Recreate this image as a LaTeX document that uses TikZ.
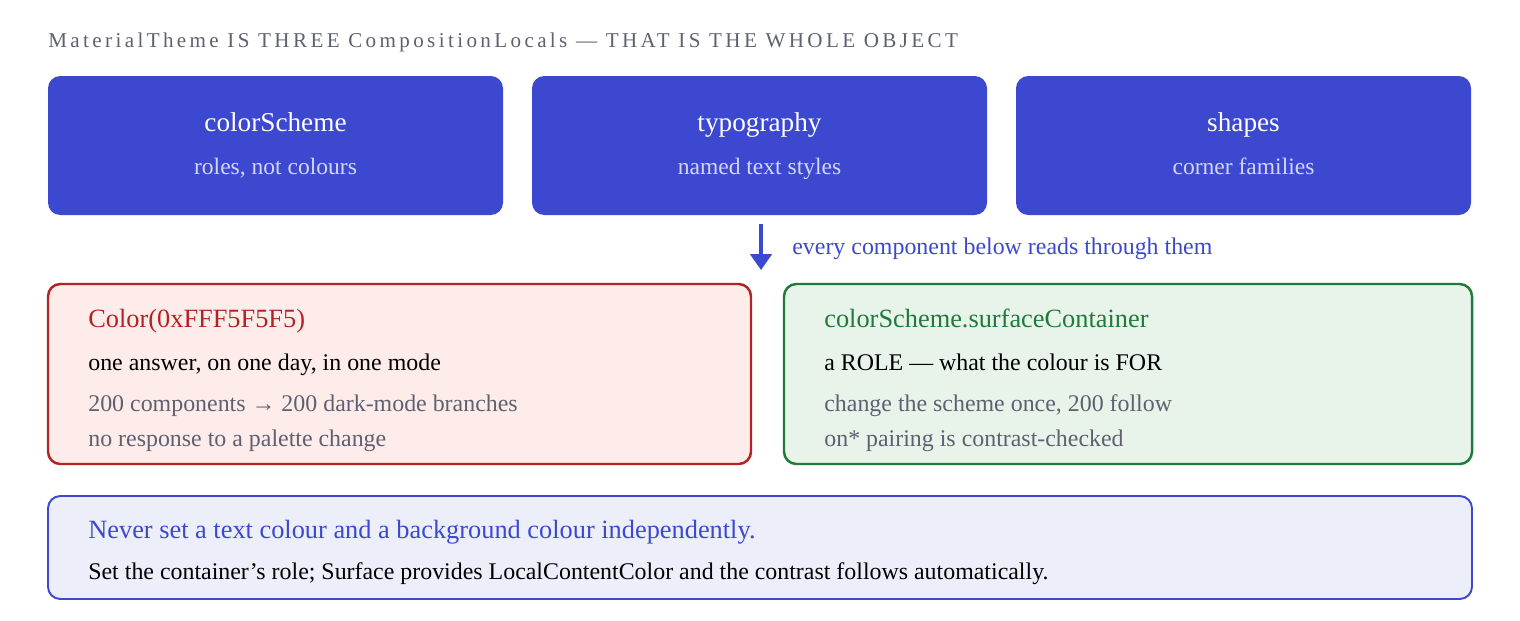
\documentclass[tikz,border=0pt]{standalone}
\usepackage{fontspec}
\setmainfont{Liberation Serif}
\usetikzlibrary{positioning, arrows.meta}
\definecolor{roleblue}{HTML}{3C48CF}
\definecolor{softblue}{HTML}{D3D7F7}
\definecolor{badred}{HTML}{B42323}
\definecolor{badfill}{HTML}{FDECEA}
\definecolor{goodgreen}{HTML}{1E7B3A}
\definecolor{goodfill}{HTML}{E8F3EA}
\definecolor{notegray}{HTML}{5F6070}
\definecolor{notefill}{HTML}{ECEEF9}
\begin{document}
\begin{tikzpicture}[x=0.02cm, y=-0.02cm,
  panel/.style={rectangle, rounded corners=7pt, line width=1.4pt},
  line/.style={anchor=base west, inner sep=0pt, font=\fontsize{13.6}{16}\selectfont}]
\useasboundingbox (0,0) rectangle (1520,620);
\node (title) [anchor=base west, inner sep=0pt, text=notegray, font=\fontsize{12}{14}\selectfont\addfontfeature{LetterSpace=16}] at (48,47) {MaterialTheme IS THREE CompositionLocals — THAT IS THE WHOLE OBJECT};

% the three locals
\foreach \x/\name/\sub [count=\i] in {48/colorScheme/{roles, not colours}, 532/typography/{named text styles}, 1016/shapes/{corner families}} {
  \fill[roleblue, rounded corners=7pt] (\x,76) rectangle (\x+455,215);
  \node (local\i) [anchor=base, inner sep=0pt, text=white, font=\fontsize{15.5}{18}\selectfont] at (\x+227.5,131) {\name};
  \node (sub\i) [anchor=base, inner sep=0pt, text=softblue, font=\fontsize{13.4}{16}\selectfont] at (\x+227.5,174) {\sub};
}
\coordinate (arrowtop) at (761,224);
\coordinate (arrowtip) at (761,270);
\draw[roleblue, line width=2.2pt, -{Triangle[width=12pt,length=9pt]}] (arrowtop) -- (arrowtip);
\node (reads) [line, text=roleblue] at (792,254) {every component below reads through them};

% hard-coded vs role
\draw[panel, draw=badred, fill=badfill] (48,284) rectangle (751,464);
\node (hex) [line, text=badred, font=\fontsize{15}{18}\selectfont] at (88,327) {Color(0xFFF5F5F5)};
\node (hex1) [line] at (88,370) {one answer, on one day, in one mode};
\node (hex2) [line, text=notegray] at (88,411) {200 components → 200 dark-mode branches};
\node (hex3) [line, text=notegray] at (88,446) {no response to a palette change};

\draw[panel, draw=goodgreen, fill=goodfill] (784,284) rectangle (1472,464);
\node (role) [line, text=goodgreen, font=\fontsize{15}{18}\selectfont] at (824,327) {colorScheme.surfaceContainer};
\node (role1) [line] at (824,370) {a ROLE — what the colour is FOR};
\node (role2) [line, text=notegray] at (824,411) {change the scheme once, 200 follow};
\node (role3) [line, text=notegray] at (824,446) {on* pairing is contrast-checked};

% rule
\draw[panel, line width=1.1pt, draw=roleblue, fill=notefill] (48,496) rectangle (1472,599);
\node (rule) [line, text=roleblue, font=\fontsize{15}{18}\selectfont] at (88,538) {Never set a text colour and a background colour independently.};
\node (rule1) [line] at (88,579) {Set the container\char"27 s role; Surface provides LocalContentColor and the contrast follows automatically.};
\end{tikzpicture}
\end{document}
